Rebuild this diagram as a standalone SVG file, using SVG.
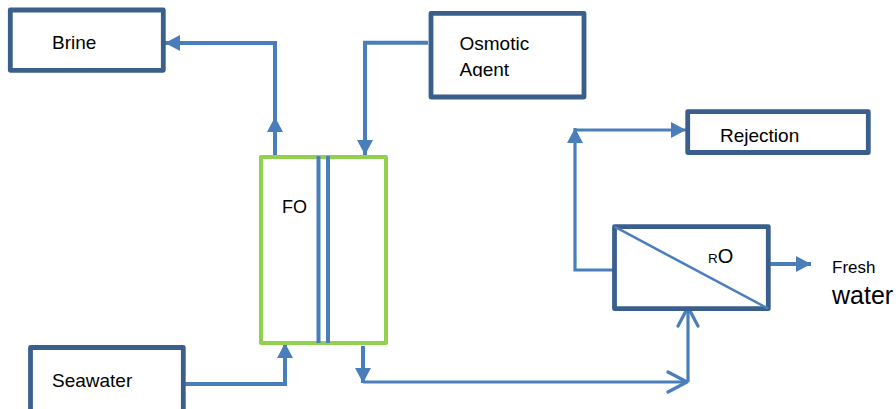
<svg xmlns="http://www.w3.org/2000/svg" width="896" height="409" viewBox="0 0 896 409">
<defs>
<style>
.box{fill:#fff;stroke:#3A5F8D;stroke-width:4.8;stroke-linejoin:round}
.fo{fill:#fff;stroke:#92D050;stroke-width:4;stroke-linejoin:round}
.ln{fill:none;stroke:#4A7EBB;stroke-width:4;stroke-linejoin:miter}
.thin{fill:none;stroke:#4A7EBB;stroke-width:3.2;stroke-linejoin:miter}
.mem{stroke:#4A7EBB;stroke-width:4}
.t{font-family:"Liberation Sans",Arial,sans-serif;font-size:19px;fill:#000}
</style>
<marker id="tri" markerUnits="userSpaceOnUse" markerWidth="16" markerHeight="16" viewBox="0 0 16 16" refX="15" refY="8" orient="auto">
<path d="M0,0 L15,8 L0,16 Z" fill="#4A7EBB"/>
</marker>
<marker id="vee" markerUnits="userSpaceOnUse" markerWidth="24" markerHeight="24" viewBox="0 0 24 24" refX="21" refY="12" orient="auto">
<path d="M2,2 L21,12 L2,22" fill="none" stroke="#4A7EBB" stroke-width="3.2" stroke-linecap="round" stroke-linejoin="round"/>
</marker>
<clipPath id="agentClip"><rect x="432" y="15" width="150" height="62"/></clipPath>
</defs>
<rect width="896" height="409" fill="#fff"/>

<g id="connectors">
<path class="ln" d="M275,157 V117" marker-end="url(#tri)"/>
<path class="ln" d="M275,120 V43 H165" marker-end="url(#tri)"/>
<path class="ln" d="M428,42.7 H365 V155" marker-end="url(#tri)"/>
<path class="ln" d="M184,384 H285 V343" marker-end="url(#tri)"/>
<path class="ln" d="M363,346 V383" marker-end="url(#tri)"/>
<path class="thin" d="M363,382 H687" marker-end="url(#vee)"/>
<path class="thin" d="M688,382 V307" marker-end="url(#vee)"/>
<path class="thin" d="M613,270 H575 V128" marker-end="url(#tri)"/>
<path class="thin" d="M575,130 H686" marker-end="url(#tri)"/>
<path class="ln" d="M770,264 H811" marker-end="url(#tri)"/>
</g>

<g id="brine">
<rect class="box" x="10.3" y="10" width="153" height="60.3"/>
<text class="t" x="52" y="49">Brine</text>
</g>

<g id="osmotic-agent">
<rect class="box" x="431" y="13.3" width="153" height="83.7"/>
<g clip-path="url(#agentClip)">
<text class="t" x="459.5" y="50">Osmotic</text>
<text class="t" x="459.5" y="75.5">Agent</text>
</g>
</g>

<g id="fo">
<rect class="fo" x="261" y="157" width="125" height="186"/>
<line class="mem" x1="318.5" y1="156" x2="318.5" y2="343"/>
<line class="mem" x1="328" y1="156" x2="328" y2="343"/>
<text class="t" x="282" y="213" style="font-size:18px">FO</text>
</g>

<g id="seawater">
<rect class="box" x="30.5" y="347.5" width="152.8" height="70"/>
<text class="t" x="52" y="387">Seawater</text>
</g>

<g id="rejection">
<rect class="box" x="687.7" y="111.7" width="180.6" height="40.8"/>
<text class="t" x="720" y="142">Rejection</text>
</g>

<g id="ro">
<rect class="box" x="614.5" y="226.7" width="153.8" height="82"/>
<line x1="614.5" y1="226.7" x2="768.3" y2="308.7" stroke="#4A7EBB" stroke-width="2.5"/>
<text class="t" x="708" y="263.3"><tspan style="font-size:13.5px">R</tspan><tspan style="font-size:20px">O</tspan></text>
</g>

<g id="fresh-water">
<text class="t" x="832" y="273.3" style="font-size:17px">Fresh</text>
<text class="t" x="832" y="304" style="font-size:25px">water</text>
</g>
</svg>
